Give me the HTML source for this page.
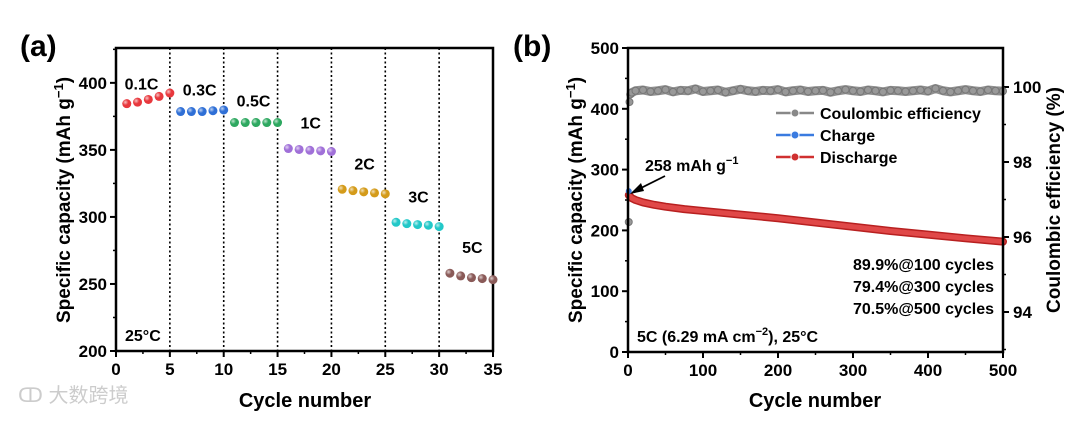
<!DOCTYPE html>
<html><head><meta charset="utf-8"><style>
html,body{margin:0;padding:0;background:#fff;}
svg{display:block;font-family:"Liberation Sans",Arial,sans-serif;font-weight:bold;}
</style></head><body>
<svg id="c" width="1080" height="422" viewBox="0 0 1080 422" xmlns="http://www.w3.org/2000/svg">
<defs>
<radialGradient id="sh" cx="35%" cy="35%" r="65%"><stop offset="0" stop-color="#fff" stop-opacity="0.7"/><stop offset="0.5" stop-color="#fff" stop-opacity="0"/></radialGradient>
</defs>
<g id="ga"></g>
<g id="gb"></g>
<text x="18" y="402" font-size="20" fill="#ccc" font-weight="normal" font-family="'Liberation Sans','Noto Sans CJK SC',sans-serif">ↀ 大数跨境</text>
</svg>
<script>
// ---- Panel (a) data ----
const rateLabels = ["0.1C","0.3C","0.5C","1C","2C","3C","5C"];
const rateColors = ["#e8383d","#2f6fd6","#2ea860","#a070d8","#d49b1a","#22c8c8","#8a5a58"];
const capA = [
 [384.5,385.6,387.6,389.9,392.4],
 [378.6,378.6,378.6,379.2,379.8],
 [370.4,370.4,370.4,370.4,370.4],
 [351,350.3,349.7,349.3,348.8],
 [320.6,319.6,318.7,317.9,317.2],
 [296,295,294.3,293.8,292.8],
 [258,256,254.7,254,253.2]
];
const xTicksA = [0,5,10,15,20,25,30,35];
const yTicksA = [200,250,300,350,400];
// ---- Panel (b) data ----
const dischargeCycles = [1,5,10,20,35,50,75,100,150,200,250,300,350,400,450,500];
const dischargeCap = [258,253,250,246,242,239,235,232,226,220,213,206,199,193,187,181.5];
const ceCycles = [1,2,3,5,10,20,30,40,50,60,70,80,90,100,110,120,130,140,150,160,170,180,190,200,210,220,230,240,250,260,270,280,290,300,310,320,330,340,350,360,370,380,390,400,410,420,430,440,450,460,470,480,490,500];
const ceVals = [96.4,99.6,99.8,99.85,99.9,99.92,99.88,99.9,99.93,99.87,99.91,99.9,99.95,99.88,99.9,99.92,99.86,99.9,99.94,99.9,99.88,99.91,99.9,99.93,99.87,99.9,99.92,99.88,99.9,99.91,99.86,99.9,99.93,99.9,99.88,99.92,99.9,99.87,99.91,99.9,99.88,99.9,99.92,99.89,99.96,99.9,99.87,99.9,99.93,99.9,99.88,99.92,99.9,99.89];
const xTicksB = [0,100,200,300,400,500];
const yTicksB = [0,100,200,300,400,500];
const yTicksR = [94,96,98,100];

const NS="http://www.w3.org/2000/svg";
function mk(p,tag,attrs,txt){const e=document.createElementNS(NS,tag);for(const k in attrs)e.setAttribute(k,attrs[k]);if(txt!==undefined)e.textContent=txt;p.appendChild(e);return e;}

// ===== Panel A =====
const ga=document.getElementById('ga');
const AX0=116,AX1=493,AY0=351,AY1=48;
const xa=v=>AX0+(v-0)/35*(AX1-AX0);
const ya=v=>AY0-(v-200)/(426-200)*(AY0-AY1);
let t;
t=mk(ga,'text',{x:20,y:56,'font-size':30},"(a)");


for(let i=1;i<7;i++){
 const l=mk(ga,'line',{x1:xa(i*5),x2:xa(i*5),y1:AY1,y2:AY0,stroke:'#000','stroke-width':1.6,'stroke-dasharray':'2,2.5'});
 
 
}
t=mk(ga,'rect',{x:AX0,y:AY1,width:AX1-AX0,height:AY0-AY1,fill:'none',stroke:'#000','stroke-width':2.5});


xTicksA.forEach(v=>{
 mk(ga,'line',{x1:xa(v),x2:xa(v),y1:AY0,y2:AY0+6,stroke:'#000','stroke-width':2});
 if(v<35) mk(ga,'line',{x1:xa(v+2.5),x2:xa(v+2.5),y1:AY0,y2:AY0+3,stroke:'#000','stroke-width':1.5});
 t=mk(ga,'text',{x:xa(v),y:AY0+24,'font-size':17,'text-anchor':'middle'},v);
 
 
});
yTicksA.forEach(v=>{
 mk(ga,'line',{x1:AX0-6,x2:AX0,y1:ya(v),y2:ya(v),stroke:'#000','stroke-width':2});
 mk(ga,'line',{x1:AX0-3,x2:AX0,y1:ya(v+25),y2:ya(v+25),stroke:'#000','stroke-width':1.5});
 t=mk(ga,'text',{x:AX0-9,y:ya(v)+6,'font-size':17,'text-anchor':'end'},v);
 
 
});
t=mk(ga,'text',{x:305,y:407,'font-size':20,'text-anchor':'middle'},"Cycle number");


t=mk(ga,'text',{x:0,y:0,'font-size':19,'text-anchor':'middle',transform:'translate(70,200) rotate(-90)'});
t.innerHTML='Specific capacity (mAh g<tspan dy="-7" font-size="13">−1</tspan><tspan dy="7">)</tspan>';


capA.forEach((arr,i)=>{
 arr.forEach((v,j)=>{
  const cx=xa(i*5+j+1),cy=ya(v);
  const c=mk(ga,'circle',{cx:cx,cy:cy,r:4.5,fill:rateColors[i]});
  
  
  mk(ga,'circle',{cx:cx,cy:cy,r:4.5,fill:'url(#sh)'});
 });
 const lx=i===0?xa(0.8):xa(i*5+1.2);
 const ly=ya(arr[0])-(i===0?14:(i<3?16:20));
 t=mk(ga,'text',{x:lx+(i>=3?10:0),y:ly,'font-size':16},rateLabels[i]);
 
 
});
t=mk(ga,'text',{x:125,y:341,'font-size':16},"25°C");



// ===== Panel B =====
const gb=document.getElementById('gb');
const BX0=628,BX1=1003,BY0=352,BY1=48;
const xb=v=>BX0+v/500*(BX1-BX0);
const yb=v=>BY0-v/500*(BY0-BY1);
const yr=v=>87+(100-v)*37.5;
t=mk(gb,'text',{x:513,y:56,'font-size':30},"(b)");


xTicksB.forEach(v=>{
 mk(gb,'line',{x1:xb(v),x2:xb(v),y1:BY0,y2:BY0+6,stroke:'#000','stroke-width':2});
 if(v<500) mk(gb,'line',{x1:xb(v+50),x2:xb(v+50),y1:BY0,y2:BY0+3,stroke:'#000','stroke-width':1.5});
 t=mk(gb,'text',{x:xb(v),y:BY0+24,'font-size':17,'text-anchor':'middle'},v);
 
 
});
yTicksB.forEach(v=>{
 mk(gb,'line',{x1:BX0-6,x2:BX0,y1:yb(v),y2:yb(v),stroke:'#000','stroke-width':2});
 if(v<500) mk(gb,'line',{x1:BX0-3,x2:BX0,y1:yb(v+50),y2:yb(v+50),stroke:'#000','stroke-width':1.5});
 t=mk(gb,'text',{x:BX0-9,y:yb(v)+6,'font-size':17,'text-anchor':'end'},v);
 
 
});
yTicksR.forEach(v=>{
 mk(gb,'line',{x1:BX1,x2:BX1+6,y1:yr(v),y2:yr(v),stroke:'#000','stroke-width':2});
 mk(gb,'line',{x1:BX1,x2:BX1+3,y1:yr(v-1),y2:yr(v-1),stroke:'#000','stroke-width':1.5});
 t=mk(gb,'text',{x:BX1+10,y:yr(v)+6,'font-size':17},v);
 
 
});
t=mk(gb,'text',{x:815,y:407,'font-size':20,'text-anchor':'middle'},"Cycle number");


t=mk(gb,'text',{x:0,y:0,'font-size':19,'text-anchor':'middle',transform:'translate(582,200) rotate(-90)'});
t.innerHTML='Specific capacity (mAh g<tspan dy="-7" font-size="13">−1</tspan><tspan dy="7">)</tspan>';


t=mk(gb,'text',{x:0,y:0,'font-size':19,'text-anchor':'middle',transform:'translate(1060,200) rotate(-90)'},"Coulombic efficiency (%)");


// CE series (band from cycle 3 onward; first points isolated)
let d='';let first=true;
ceCycles.forEach((c,i)=>{if(c<3)return;d+=(first?'M':'L')+xb(c)+','+yr(ceVals[i]);first=false;});
t=mk(gb,'path',{d:d,fill:'none',stroke:'#8f8f8f','stroke-width':9,'stroke-linejoin':'round'});


ceCycles.forEach((c,i)=>{
 const p=mk(gb,'circle',{cx:xb(c),cy:yr(ceVals[i]),r:3.5,fill:'#999',stroke:'#777','stroke-width':1});
 
 
});
// Discharge
d='';dischargeCycles.forEach((c,i)=>{d+=(i?'L':'M')+xb(c)+','+yb(dischargeCap[i]);});
t=mk(gb,'path',{d:d,fill:'none',stroke:'#b82020','stroke-width':8,'stroke-linecap':'round','stroke-linejoin':'round'});


t=mk(gb,'path',{d:d,fill:'none',stroke:'#e04848','stroke-width':5,'stroke-linecap':'round','stroke-linejoin':'round'});


t=mk(gb,'circle',{cx:xb(1),cy:yb(dischargeCap[0])-4,r:3,fill:'#3a7be0'});


t=mk(gb,'rect',{x:BX0,y:BY1,width:BX1-BX0,height:BY0-BY1,fill:'none',stroke:'#000','stroke-width':2.5});


t=mk(gb,'text',{x:645,y:171,'font-size':16});
t.innerHTML='258 mAh g<tspan dy="-7" font-size="11">−1</tspan>';


t=mk(gb,'line',{x1:665,x2:633,y1:176,y2:192,stroke:'#000','stroke-width':1.8});


mk(gb,'path',{d:'M630,194 L641,183 L644,191 Z',fill:'#000'});
const leg=[["Coulombic efficiency","#888"],["Charge","#3a7be0"],["Discharge","#d03030"]];
leg.forEach((l,i)=>{
 const y=113+i*22;
 const g=mk(gb,'g',{});
 
 
 mk(g,'line',{x1:776,x2:814,y1:y,y2:y,stroke:l[1],'stroke-width':2.5});
 mk(g,'circle',{cx:795,cy:y,r:4,fill:l[1],stroke:'#fff','stroke-width':1});
 mk(g,'text',{x:820,y:y+6,'font-size':16},l[0]);
});
["89.9%@100 cycles","79.4%@300 cycles","70.5%@500 cycles"].forEach((s,i)=>{
 t=mk(gb,'text',{x:994,y:270+i*22,'font-size':16,'text-anchor':'end'},s);
 
 
});
t=mk(gb,'text',{x:637,y:342,'font-size':16});
t.innerHTML='5C (6.29 mA cm<tspan dy="-7" font-size="11">−2</tspan><tspan dy="7">), 25°C</tspan>';


</script>
</body></html>
